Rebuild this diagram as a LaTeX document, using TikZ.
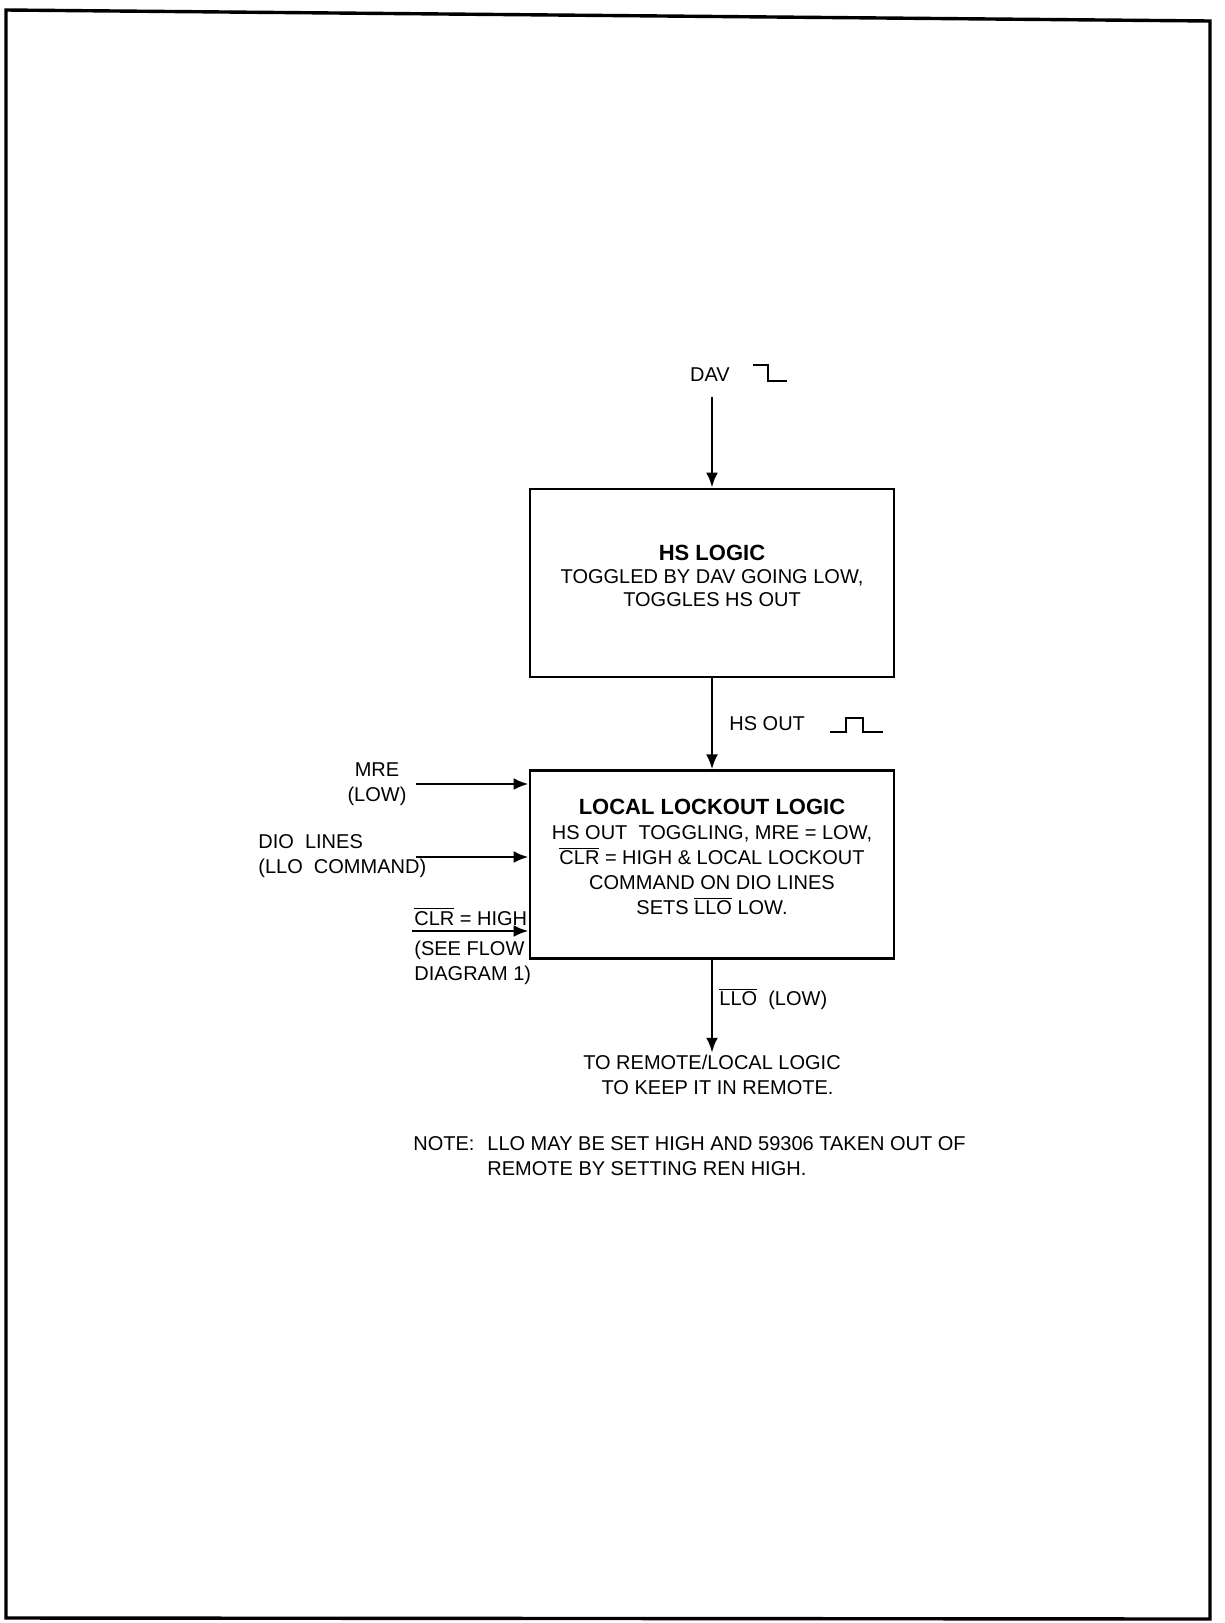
\documentclass[tikz,border=0pt]{standalone}
\usepackage{fontspec}
\setmainfont{Liberation Sans}
\usepackage{tikz}
\usetikzlibrary{positioning, arrows.meta}
\newcommand{\ovl}[1]{$\overline{\mbox{#1}}$}

\begin{document}
\begin{tikzpicture}[x=0.5pt, y=-0.5pt, node distance=45.5pt,
    >={Latex[length=7.5pt,width=6pt]},
    logicbox/.style={draw, line width=1.4pt, minimum width=182pt,
      minimum height=94pt, align=center,
      font=\fontsize{10}{12.5}\selectfont},
    lbl/.style={inner sep=1pt, font=\fontsize{10}{12.5}\selectfont},
    flow/.style={->, line width=1.4pt},
    wave/.style={line width=1.1pt}]
  \useasboundingbox (0,0) rectangle (1225,1623);
  \draw[line width=1.7pt] (6,10) -- (1210,21) -- (1210,1619) -- (6,1618) -- cycle;

  % handshake part
  \node[lbl] (dav) at (710,375) {DAV};
  \draw[wave] (753,365) -- (768,365) -- (768,381) -- (787,381);
  \node[logicbox, font=\fontsize{10}{11.5}\selectfont] (hs) at (712,583)
    {{\fontsize{11}{12.5}\selectfont\bfseries HS LOGIC}\\
     TOGGLED\ BY\ DAV\ GOING\ LOW,\\TOGGLES\ HS OUT\\[-4pt]\mbox{}};
  \node[logicbox, below=of hs] (llo)
    {{\fontsize{11}{13.5}\selectfont\bfseries LOCAL LOCKOUT LOGIC}\\
     HS OUT\ \ TOGGLING, MRE = LOW,\\
     \ovl{CLR} = HIGH \& LOCAL LOCKOUT\\
     COMMAND ON DIO LINES\\
     SETS \ovl{LLO} LOW.\\[-5pt]\mbox{}};
  \coordinate (davin) at (712,397);
  \draw[flow] (davin) -- (hs.north);
  \draw[flow] (hs.south) -- (llo.north);
  \node[lbl, anchor=west] (hsout) at (727,724) {HS OUT};
  \draw[wave] (830,732) -- (846,732) -- (846,718) -- (863,718)
    -- (863,732) -- (883,732);

  % inputs on the left
  \node[lbl, align=center] (mre) at (377,784) {MRE\\(LOW)};
  \coordinate (mrein) at (416,784);
  \draw[flow] (mrein) -- (mrein -| llo.west);
  \node[lbl, align=left, anchor=west] (dio) at (256,856)
    {DIO\ \ LINES\\(LLO\ \ COMMAND)};
  \coordinate (dioin) at (416,857);
  \draw[flow] (dioin) -- (dioin -| llo.west);
  \node[lbl, align=left, anchor=west] (clr) at (412,946)
    {\ovl{CLR} = HIGH\\[2.5pt](SEE FLOW\\DIAGRAM 1)};
  \coordinate (clrin) at (412,931);
  \draw[flow] (clrin) -- (clrin -| llo.west);

  % output
  \node[lbl, anchor=west] (llolbl) at (717,999) {\ovl{LLO}\ \ (LOW)};
  \node[lbl, align=center] (remote) at (712,1075)
    {TO REMOTE/LOCAL LOGIC\\\ \ TO KEEP IT IN REMOTE.};
  \draw[flow] (llo.south) -- (llo.south |- remote.north);

  \node[lbl, anchor=west] (note) at (411,1144) {NOTE:};
  \node[lbl, align=left, anchor=west] (notetxt) at (485,1156)
    {LLO MAY BE SET HIGH AND 59306 TAKEN OUT OF\\
     REMOTE BY SETTING REN HIGH.};
\end{tikzpicture}
\end{document}
